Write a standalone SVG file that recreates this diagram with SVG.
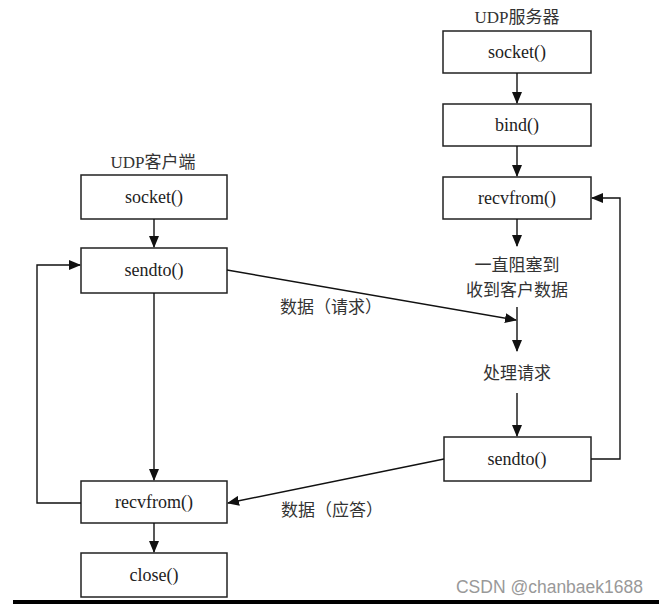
<svg xmlns="http://www.w3.org/2000/svg" width="659" height="604" viewBox="0 0 659 604">
<style>
.box{fill:#fff;stroke:#222;stroke-width:1.5}
.t{font-family:"Liberation Serif","Noto Sans CJK SC",serif;font-size:18px;fill:#222;text-anchor:middle;dominant-baseline:central}
.c{font-family:"Liberation Serif","Noto Sans CJK SC",serif;font-size:17px;fill:#333;text-anchor:middle;dominant-baseline:central}
.ln{fill:none;stroke:#111;stroke-width:1.4}
</style>
<defs>
<marker id="ah" markerWidth="12" markerHeight="10" refX="11" refY="5" orient="auto" markerUnits="userSpaceOnUse">
<path d="M0,0 L12,5 L0,10 Z" fill="#111"/>
</marker>
</defs>
<rect width="659" height="604" fill="#fff"/>
<text class="c" x="517" y="17" font-size="18">UDP服务器</text>
<text class="c" x="153" y="162" font-size="18">UDP客户端</text>
<g id="s_socket"><rect class="box" x="443" y="31" width="148" height="42"/><text class="t" x="517" y="52">socket()</text></g>
<g id="s_bind"><rect class="box" x="443" y="104" width="148" height="42"/><text class="t" x="517" y="125">bind()</text></g>
<g id="s_recvfrom"><rect class="box" x="443" y="177" width="148" height="42"/><text class="t" x="517" y="198">recvfrom()</text></g>
<g id="s_block"><text class="c" x="517" y="265" font-size="18">一直阻塞到</text><text class="c" x="517" y="290" font-size="18">收到客户数据</text></g>
<g id="s_process"><text class="c" x="517" y="373" font-size="18">处理请求</text></g>
<g id="s_sendto"><rect class="box" x="444" y="437" width="147" height="44"/><text class="t" x="517" y="459">sendto()</text></g>
<g id="c_socket"><rect class="box" x="81" y="175" width="146" height="44"/><text class="t" x="154" y="197">socket()</text></g>
<g id="c_sendto"><rect class="box" x="81" y="248" width="146" height="45"/><text class="t" x="154" y="270">sendto()</text></g>
<g id="c_recvfrom"><rect class="box" x="81" y="481" width="146" height="42"/><text class="t" x="154" y="502">recvfrom()</text></g>
<g id="c_close"><rect class="box" x="81" y="553" width="146" height="44"/><text class="t" x="154" y="575">close()</text></g>
<g id="connectors">
<line class="ln" x1="517" y1="73" x2="517" y2="103" marker-end="url(#ah)"/>
<line class="ln" x1="517" y1="146" x2="517" y2="176" marker-end="url(#ah)"/>
<line class="ln" x1="517" y1="219" x2="517" y2="246" marker-end="url(#ah)"/>
<line class="ln" x1="517" y1="307" x2="517" y2="351" marker-end="url(#ah)"/>
<line class="ln" x1="517" y1="393" x2="517" y2="436" marker-end="url(#ah)"/>
<polyline class="ln" points="591,459 620,459 620,198 592,198" marker-end="url(#ah)"/>
<line class="ln" x1="154" y1="219" x2="154" y2="247" marker-end="url(#ah)"/>
<line class="ln" x1="154" y1="293" x2="154" y2="480" marker-end="url(#ah)"/>
<line class="ln" x1="154" y1="523" x2="154" y2="552" marker-end="url(#ah)"/>
<polyline class="ln" points="81,503 37,503 37,265 80,265" marker-end="url(#ah)"/>
<line class="ln" x1="227" y1="270" x2="516" y2="320" marker-end="url(#ah)"/>
<line class="ln" x1="444" y1="459" x2="228" y2="503" marker-end="url(#ah)"/>
</g>
<text class="c" x="331" y="307">数据（请求）</text>
<text class="c" x="332" y="510">数据（应答）</text>
<line x1="13" y1="602" x2="659" y2="602" stroke="#000" stroke-width="4"/>
<text x="643" y="593" font-family="Liberation Sans,Arial,sans-serif" font-size="17.5" fill="#999" text-anchor="end">CSDN @chanbaek1688</text>
</svg>
